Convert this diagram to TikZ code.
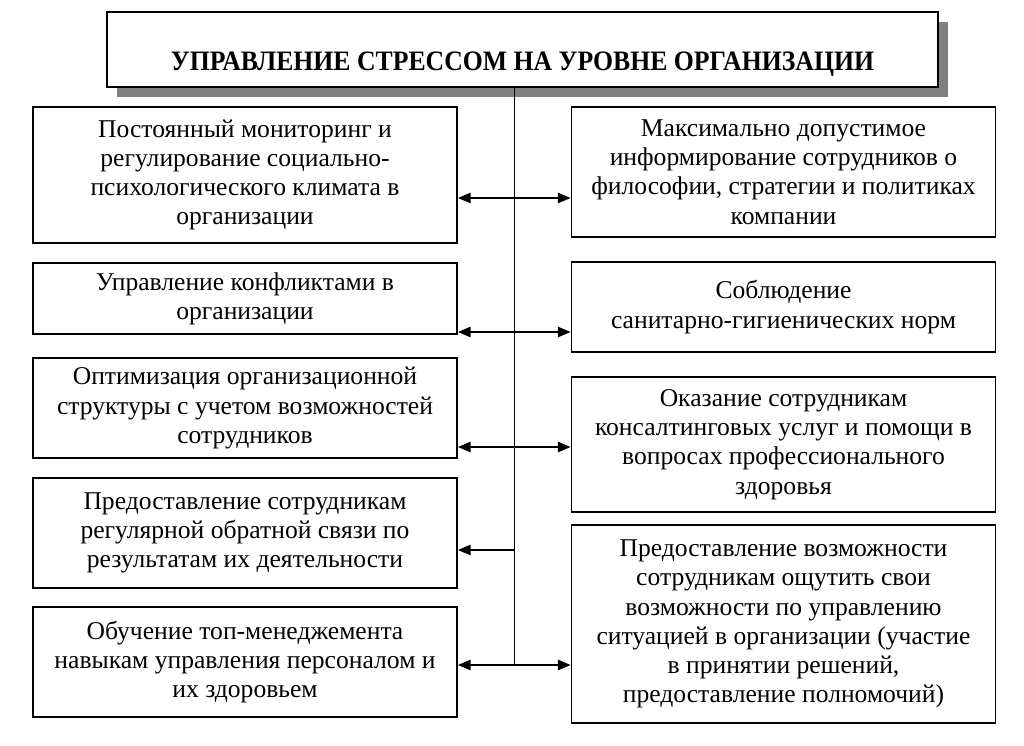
\documentclass[tikz,border=0pt]{standalone}
\usepackage{fontspec}
\setmainfont{Liberation Serif}
\usetikzlibrary{arrows.meta,shadows}

\begin{document}
\begin{tikzpicture}[x=0.025cm,y=-0.025cm]

      \useasboundingbox (0,0) rectangle (1024,745);

      \node (0) [draw, line width=1.2pt, fill=white, minimum width=20.775cm, minimum height=1.875cm,
        text height=1.2cm, text depth=0.16cm,
        drop shadow={shadow xshift=0.25cm, shadow yshift=-0.25cm, fill=gray, opacity=1}]
        at (522.5,49.5) {\scalebox{0.915}[1]{\fontsize{20}{24}\selectfont\bfseries УПРАВЛЕНИЕ СТРЕССОМ НА УРОВНЕ ОРГАНИЗАЦИИ}};

      \begin{scope}[every node/.style={draw, line width=1.2pt, minimum width=10.6cm, align=center,
          font=\fontsize{18.2}{20.8}\selectfont}]
        \node (1) [minimum height=3.4cm]   at (245,175)   {Постоянный мониторинг и\\ регулирование социально-\\ психологического климата в\\ организации};
        \node (2) [minimum height=1.775cm] at (245,298.5) {Управление конфликтами в\\ организации};
        \node (3) [minimum height=2.5cm]   at (245,408)   {Оптимизация организационной\\ структуры с учетом возможностей\\ сотрудников};
        \node (4) [minimum height=2.75cm]  at (245,533)   {Предоставление сотрудникам\\ регулярной обратной связи по\\ результатам их деятельности};
        \node (5) [minimum height=2.75cm]  at (245,662)   {Обучение топ-менеджемента\\ навыкам управления персоналом и\\ их здоровьем};
        \node (6) [minimum height=3.25cm]  at (783.5,172) {Максимально допустимое\\ информирование сотрудников о\\ философии, стратегии и политиках\\ компании};
        \node (7) [minimum height=2.25cm]  at (783.5,307) {Соблюдение\\ санитарно-гигиенических норм};
        \node (8) [minimum height=3.375cm] at (783.5,444.5) {Оказание сотрудникам\\ консалтинговых услуг и помощи в\\ вопросах профессионального\\ здоровья};
        \node (9) [minimum height=4.95cm]  at (783.5,624) {Предоставление возможности\\ сотрудникам ощутить свои\\ возможности по управлению\\ ситуацией в организации (участие\\ в принятии решений,\\ предоставление полномочий)};
      \end{scope}

      % trunk and branch levels
      \coordinate (a) at (514,198);
      \coordinate (b) at (514,332);
      \coordinate (c) at (514,447);
      \coordinate (d) at (514,550);
      \coordinate (e) at (514,665);

      \draw[line width=0.7pt] (0.south -| e) -- (e);

      \begin{scope}[every edge/.style={draw, line width=1.1pt, {Triangle[length=0.32cm,width=0.26cm]}-{Triangle[length=0.32cm,width=0.26cm]}}]
        \path (1.east |- a) edge (6.west |- a);
        \path (2.east |- b) edge (7.west |- b);
        \path (3.east |- c) edge (8.west |- c);
        \path (d) edge[-{Triangle[length=0.32cm,width=0.26cm]}] (4.east |- d);
        \path (5.east |- e) edge (9.west |- e);
      \end{scope}

    \end{tikzpicture}
\end{document}
